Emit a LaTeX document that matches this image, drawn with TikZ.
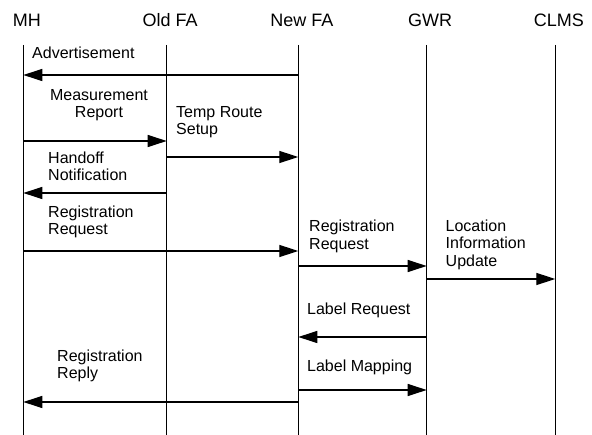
\documentclass[tikz,border=0pt]{standalone}
\usepackage{fontspec}
\setmainfont{Liberation Sans}
\usetikzlibrary{arrows.meta}
\begin{document}
\begin{tikzpicture}[x=1pt,y=-1pt,
		life/.style={line width=1.3pt},
		msg/.style={line width=1.3pt,-{Triangle[length=19pt,width=12pt]}},
		hdr/.style={anchor=base,inner sep=0pt,font=\fontsize{18}{20}\selectfont},
		lbl/.style={anchor=base west,align=left,inner sep=0pt,font=\fontsize{16}{17.7}\selectfont}]
		\useasboundingbox (0,0) rectangle (592,435);
		\foreach \n/\x/\t in {mh/23.3/MH,ofa/166.7/Old FA,nfa/298.3/New FA,gwr/426.7/GWR,clms/555.3/CLMS}{
			\coordinate (\n) at (\x,45);
			\coordinate (\n-end) at (\x,435);
			\node[hdr] (\n-hdr) at (\x+3.5,26.5) {\t};
			\draw[life] (\n)--(\n-end);
		}
		\draw[msg] (nfa|-0,75)--(mh|-0,75);
		\node[lbl] (adv) at (32,59) {Advertisement};
		\draw[msg] (mh|-0,141)--(ofa|-0,141);
		\node[lbl,align=center,anchor=base] (meas) at (99,118) {Measurement\\Report};
		\draw[msg] (ofa|-0,157)--(nfa|-0,157);
		\node[lbl] (temp) at (176,135) {Temp Route\\Setup};
		\draw[msg] (ofa|-0,193)--(mh|-0,193);
		\node[lbl] (hand) at (48,181) {Handoff\\Notification};
		\draw[msg] (mh|-0,251)--(nfa|-0,251);
		\node[lbl] (regreq) at (48,235) {Registration\\Request};
		\draw[msg] (nfa|-0,266)--(gwr|-0,266);
		\node[lbl] (regreqgw) at (309,249.5) {Registration\\Request};
		\draw[msg] (gwr|-0,279)--(clms|-0,279);
		\node[lbl] (loc) at (445.5,266.7) {Location\\Information\\Update};
		\draw[msg] (gwr|-0,337)--(nfa|-0,337);
		\node[lbl] (labreq) at (307,315) {Label Request};
		\draw[msg] (nfa|-0,390)--(gwr|-0,390);
		\node[lbl] (labmap) at (307,372) {Label Mapping};
		\draw[msg] (nfa|-0,402)--(mh|-0,402);
		\node[lbl] (regrep) at (57,379) {Registration\\Reply};
\end{tikzpicture}
\end{document}
